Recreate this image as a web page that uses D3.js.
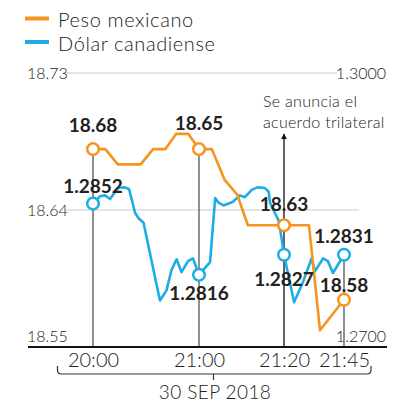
<!DOCTYPE html>
<html>
<head>
<meta charset="utf-8">
<script src="https://cdn.jsdelivr.net/npm/d3@7"></script>
<style>
    body { margin: 0; background: #fff; }
    text { font-family: Lato, "Open Sans", sans-serif; fill: #222; }
    .light { font-weight: 300; }
    .val { font-weight: 700; font-size: 19px; }
</style>
</head>
<body>
<div id="wrapper"></div>
<script>
// minutes after 20:00, 30 Sep 2018
const pesoMinutes = [0, 7, 14, 27, 34, 41, 47, 54, 60, 63, 66, 69, 71.5, 80, 90.4, 95, 105];
const pesoValues = [18.68, 18.68, 18.67, 18.67, 18.68, 18.68, 18.69, 18.69, 18.68, 18.68, 18.66, 18.65, 18.63, 18.63, 18.63, 18.561, 18.581];

const dolarMinutes = [0, 4, 6.8, 9.6, 14.2, 17.5, 20.4, 23.8, 25.8, 28.6, 37.9, 41.6, 44.4, 47.3, 50.1, 53.8, 56.6, 60,
    62.6, 63.8, 64.6, 65.8, 68, 69.6, 70.8, 72.4, 73.9, 75.5, 76.4, 76.7, 77.5, 78.7, 79.5, 80,
    84.2, 87.9, 91.5, 92.9, 96.3, 98.3, 100.4, 105];
const dolarValues = [1.2857, 1.2865, 1.2866, 1.2862, 1.2874, 1.2875, 1.2873, 1.2847, 1.2841, 1.2836, 1.2751, 1.2762, 1.2784, 1.2796, 1.2782, 1.2794, 1.2797, 1.2779,
    1.2793, 1.2863, 1.2858, 1.2855, 1.2859, 1.2866, 1.2864, 1.2872, 1.2875, 1.2874, 1.2870, 1.2858, 1.2850, 1.2839, 1.2817, 1.2801,
    1.2749, 1.2771, 1.2797, 1.2783, 1.2797, 1.2794, 1.2781, 1.2801];

const markMinutes = [0, 60, 80, 105];
const tickLabels = ["20:00", "21:00", "21:20", "21:45"];
const pesoLabels = ["18.68", "18.65", "18.63", "18.58"];
const dolarLabels = ["1.2852", "1.2816", "1.2827", "1.2831"];

const pesoTicks = [18.73, 18.64, 18.55];
const dolarTicks = [1.3000, 1.2700];

const orange = "#f7941d";
const blue = "#1cade4";

const dimensions = { width: 408, height: 403 };

const wrapper = d3.select("#wrapper")
    .append("svg")
    .attr("width", dimensions.width)
    .attr("height", dimensions.height);

const xScale = d3.scaleLinear()
    .domain(markMinutes)
    .range([93, 199, 284, 344]);

const yPeso = d3.scaleLinear()
    .domain([18.55, 18.73])
    .range([347, 73]);

const yDolar = d3.scaleLinear()
    .domain([1.27, 1.30])
    .range([347, 73]);

// legend
const legend = [["Peso mexicano", orange], ["Dólar canadiense", blue]];
legend.forEach((l, i) => {
    wrapper.append("rect")
        .attr("x", 25).attr("y", 16.5 + i * 23.5)
        .attr("width", 24).attr("height", 4)
        .attr("fill", l[1]);
    wrapper.append("text")
        .attr("class", "light")
        .attr("x", 58).attr("y", 27 + i * 23.5)
        .attr("font-size", 20)
        .attr("letter-spacing", 0.6)
        .text(l[0]);
});

// grid
wrapper.append("line")
    .attr("x1", 63).attr("x2", 337)
    .attr("y1", yPeso(18.73)).attr("y2", yPeso(18.73))
    .attr("stroke", "#ddd").attr("stroke-width", 1.5);
wrapper.append("line")
    .attr("x1", 65).attr("x2", 359)
    .attr("y1", yPeso(18.64)).attr("y2", yPeso(18.64))
    .attr("stroke", "#ddd").attr("stroke-width", 1.5);

// bottom labels sit above the axis line
const labelY = y => y > 300 ? y - 5 : y + 5.5;

wrapper.selectAll(".ltick")
    .data(pesoTicks)
    .enter().append("text")
    .attr("class", "light")
    .attr("x", 27)
    .attr("y", d => labelY(yPeso(d)))
    .attr("font-size", 16)
    .attr("fill", "#444")
    .text(d => d.toFixed(2));

wrapper.selectAll(".rtick")
    .data(dolarTicks)
    .enter().append("text")
    .attr("class", "light")
    .attr("x", 386)
    .attr("y", d => labelY(yDolar(d)))
    .attr("text-anchor", "end")
    .attr("font-size", 16)
    .attr("fill", "#444")
    .text(d => d.toFixed(4));

// vertical markers
const pesoAt = m => pesoValues[pesoMinutes.indexOf(m)];
const dolarAt = m => dolarValues[dolarMinutes.indexOf(m)];

markMinutes.forEach((m, i) => {
    if (i === 2) return;
    wrapper.append("line")
        .attr("x1", xScale(m)).attr("x2", xScale(m))
        .attr("y1", Math.min(yPeso(pesoAt(m)), yDolar(dolarAt(m))))
        .attr("y2", 347)
        .attr("stroke", "#555").attr("stroke-width", 1.3);
});

// annotation arrow
wrapper.append("defs").append("marker")
    .attr("id", "arrow")
    .attr("viewBox", "0 0 10 10")
    .attr("refX", 9).attr("refY", 5)
    .attr("markerWidth", 6).attr("markerHeight", 6)
    .attr("markerUnits", "userSpaceOnUse")
    .attr("orient", "auto")
    .append("path")
    .attr("d", "M0,0 L10,5 L0,10 Z")
    .attr("fill", "#111");

wrapper.append("line")
    .attr("x1", xScale(80)).attr("x2", xScale(80))
    .attr("y1", 347).attr("y2", 134)
    .attr("stroke", "#111").attr("stroke-width", 1.3)
    .attr("marker-end", "url(#arrow)");

wrapper.append("text")
    .attr("class", "light")
    .attr("x", 263).attr("y", 107)
    .attr("font-size", 16)
    .attr("letter-spacing", 0.3)
    .text("Se anuncia el");
wrapper.append("text")
    .attr("class", "light")
    .attr("x", 263).attr("y", 127.5)
    .attr("font-size", 16)
    .attr("letter-spacing", 0.3)
    .text("acuerdo trilateral");

// lines
const dolarLine = d3.line()
    .x((d, i) => xScale(dolarMinutes[i]))
    .y(d => yDolar(d));

const pesoLine = d3.line()
    .x((d, i) => xScale(pesoMinutes[i]))
    .y(d => yPeso(d));

wrapper.append("path")
    .attr("d", dolarLine(dolarValues))
    .attr("fill", "none")
    .attr("stroke", blue)
    .attr("stroke-width", 2.6)
    .attr("stroke-linejoin", "round");

wrapper.append("path")
    .attr("d", pesoLine(pesoValues))
    .attr("fill", "none")
    .attr("stroke", orange)
    .attr("stroke-width", 2.6)
    .attr("stroke-linejoin", "round");

// circles
wrapper.selectAll(".p-dots")
    .data(markMinutes)
    .enter().append("circle")
    .attr("cx", d => xScale(d))
    .attr("cy", d => yPeso(pesoAt(d)))
    .attr("r", 5.8)
    .attr("fill", "#fff")
    .attr("stroke", orange)
    .attr("stroke-width", 2.5);

wrapper.selectAll(".d-dots")
    .data(markMinutes)
    .enter().append("circle")
    .attr("cx", d => xScale(d))
    .attr("cy", d => yDolar(dolarAt(d)))
    .attr("r", 5.8)
    .attr("fill", "#fff")
    .attr("stroke", blue)
    .attr("stroke-width", 2.5);

// value labels
const pesoDy = [-17, -19, -14, -8];
const dolarDy = [-11, 25, 31, -12];

wrapper.selectAll(".p-lab")
    .data(markMinutes)
    .enter().append("text")
    .attr("class", "val")
    .attr("text-anchor", "middle")
    .attr("x", d => xScale(d))
    .attr("y", (d, i) => yPeso(pesoAt(d)) + pesoDy[i])
    .text((d, i) => pesoLabels[i]);

wrapper.selectAll(".d-lab")
    .data(markMinutes)
    .enter().append("text")
    .attr("class", "val")
    .attr("text-anchor", "middle")
    .attr("x", d => xScale(d))
    .attr("y", (d, i) => yDolar(dolarAt(d)) + dolarDy[i])
    .text((d, i) => dolarLabels[i]);

// x axis
wrapper.append("line")
    .attr("x1", 28).attr("x2", 387)
    .attr("y1", 347).attr("y2", 347)
    .attr("stroke", "#111").attr("stroke-width", 2);

const xAxis = wrapper.append("g")
    .attr("transform", "translate(0, 347)")
    .call(d3.axisBottom(xScale)
        .tickValues(markMinutes)
        .tickFormat((d, i) => tickLabels[i])
        .tickSize(0)
        .tickPadding(6));

xAxis.select(".domain").remove();
xAxis.selectAll("text")
    .attr("class", "light")
    .attr("font-size", 20)
    .attr("font-family", "Lato, sans-serif")
    .attr("fill", "#222");

// date bracket
wrapper.append("path")
    .attr("d", "M57.5,366 L57.5,370 Q57.5,374 61.5,374 L367,374 Q371,374 371,370 L371,366 M213.5,374 L213.5,380")
    .attr("fill", "none")
    .attr("stroke", "#333")
    .attr("stroke-width", 1.2);

wrapper.append("text")
    .attr("class", "light")
    .attr("x", 215).attr("y", 399)
    .attr("text-anchor", "middle")
    .attr("font-size", 19)
    .attr("letter-spacing", 0.4)
    .text("30 SEP 2018");
</script>
</body>
</html>
